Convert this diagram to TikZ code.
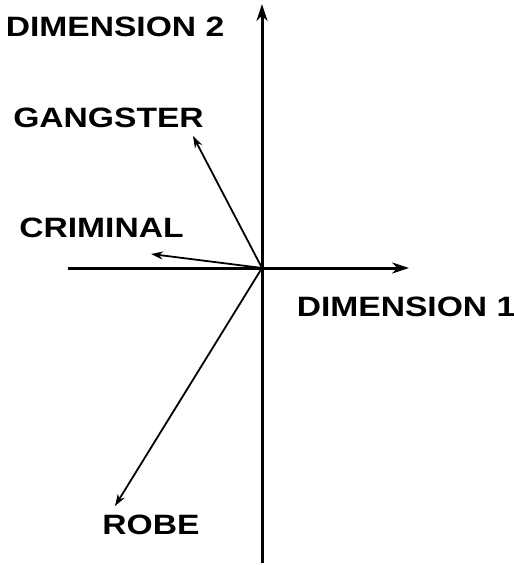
\documentclass[tikz,border=0pt]{standalone}
\usepackage{fontspec}
\setmainfont{Liberation Sans}
\usetikzlibrary{arrows.meta}
\begin{document}
\begin{tikzpicture}[x=1pt,y=-1pt,
  axis/.style={line width=3pt,-{Stealth[length=17pt,width=11pt]}},
  vec/.style={line width=1.8pt,-{Stealth[length=12pt,width=8pt]}},
  lbl/.style={font=\fontsize{28}{30}\selectfont\bfseries,inner sep=0pt}]
\useasboundingbox (0,0) rectangle (514,565);
\coordinate (O) at (262,268);
\coordinate (ybot) at (262,563);
\coordinate (ytop) at (262,4);
\coordinate (xl) at (68,268);
\coordinate (xr) at (409,268);
\coordinate (g) at (193,136);
\coordinate (c) at (151,254);
\coordinate (r) at (115,506);
\draw[line width=3pt] (ybot) -- (O);
\draw[axis] (O) -- (ytop);
\draw[line width=3pt] (xl) -- (O);
\draw[axis] (O) -- (xr);
\draw[vec] (O) -- (g);
\draw[vec] (O) -- (c);
\draw[vec] (O) -- (r);
\node[lbl] (d2) at (115,27) {\scalebox{1.2}[1]{DIMENSION 2}};
\node[lbl] (gl) at (108.5,118) {\scalebox{1.2}[1]{GANGSTER}};
\node[lbl] (cl) at (101.5,227.5) {\scalebox{1.2}[1]{CRIMINAL}};
\node[lbl] (d1) at (406,307) {\scalebox{1.2}[1]{DIMENSION 1}};
\node[lbl] (rl) at (151,524.5) {\scalebox{1.2}[1]{ROBE}};
\end{tikzpicture}
\end{document}
